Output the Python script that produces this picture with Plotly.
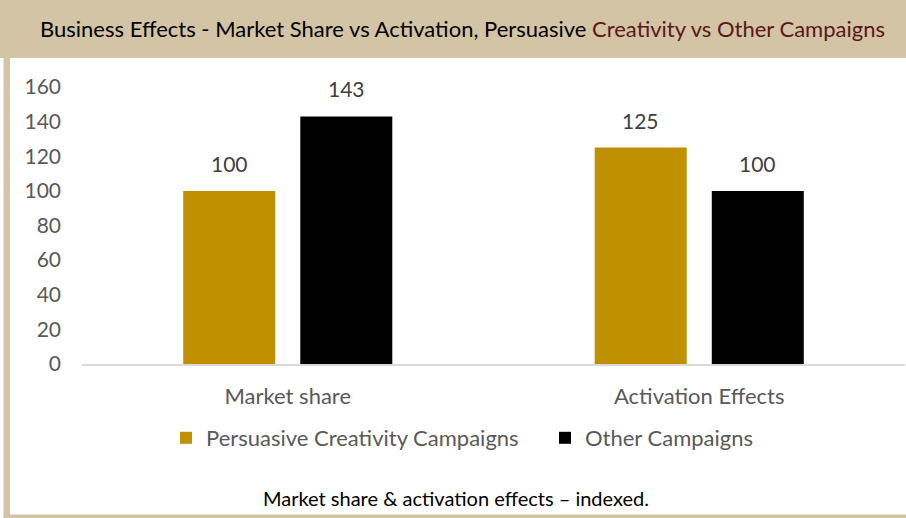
import plotly.graph_objects as go

categories = ["Market share", "Activation Effects"]
persuasive = [100, 125]
other = [143, 100]
series_names = ["Persuasive Creativity Campaigns", "Other Campaigns"]
y_ticks = [0, 20, 40, 60, 80, 100, 120, 140, 160]

GOLD = "#BF9000"
BLACK = "#000000"
TAN = "#D3C4A5"
FONT = "Lato, 'Open Sans', sans-serif"

W, H = 906, 518
L, R, T, B = 82, 1, 87, 154
pw, ph = W - L - R, H - T - B

def px(x):
    return (x - L) / pw

def py(y):
    return (H - B - y) / ph

fig = go.Figure()
fig.add_trace(go.Bar(x=categories, y=persuasive, name=series_names[0], legend="legend",
                     marker=dict(color=GOLD, line=dict(width=0))))
fig.add_trace(go.Bar(x=categories, y=other, name=series_names[1], legend="legend2",
                     marker=dict(color=BLACK, line=dict(width=0))))

annotations = []
offset = 58.5
for vals, sh in ((persuasive, -offset), (other, offset)):
    for c, v in zip(categories, vals):
        annotations.append(dict(x=c, y=v, xref="x", yref="y", text=str(v),
                                showarrow=False, yanchor="bottom", yshift=13,
                                xshift=sh, font=dict(family=FONT, size=21, color="#404040")))

annotations.append(dict(
    x=px(462), y=py(29), xref="paper", yref="paper", showarrow=False,
    xanchor="center", yanchor="middle",
    text="Business Effects - Market Share vs Activation, Persuasive "
         "<span style='color:#5B1616'>Creativity vs Other Campaigns</span>",
    font=dict(family=FONT, size=22, color="#000000")))
annotations.append(dict(
    x=px(456), y=py(498), xref="paper", yref="paper", showarrow=False,
    xanchor="center", yanchor="middle",
    text="Market share &amp; activation effects \u2013 indexed.",
    font=dict(family=FONT, size=20, color="#000000")))

shapes = [
    dict(type="rect", xref="paper", yref="paper", x0=px(0), x1=px(906), y0=py(58), y1=py(0),
         fillcolor=TAN, line=dict(width=0), layer="below"),
    dict(type="rect", xref="paper", yref="paper", x0=px(3.5), x1=px(10), y0=py(517), y1=py(58),
         fillcolor=TAN, line=dict(width=0), layer="below"),
    dict(type="rect", xref="paper", yref="paper", x0=px(3.5), x1=px(906), y0=py(518), y1=py(514.5),
         fillcolor=TAN, line=dict(width=0), layer="below"),
]

legend_common = dict(orientation="h", xanchor="left", yanchor="middle",
                     bgcolor="rgba(0,0,0,0)",
                     font=dict(family=FONT, size=22, color="#595959"), itemwidth=30)

fig.update_layout(
    width=W, height=H,
    margin=dict(l=L, r=R, t=T, b=B, pad=0),
    paper_bgcolor="white", plot_bgcolor="white",
    barmode="group", bargap=0.431, bargroupgap=0.214,
    font=dict(family=FONT, color="#595959"),
    showlegend=True,
    legend=dict(x=px(166), y=py(438), **legend_common),
    legend2=dict(x=px(545), y=py(438), **legend_common),
    annotations=annotations, shapes=shapes,
)
fig.update_xaxes(showgrid=False, showline=True, linecolor="#D9D9D9", linewidth=1.5,
                 ticks="", tickfont=dict(family=FONT, size=22, color="#595959"),
                 ticklabelstandoff=12, zeroline=False)
fig.update_yaxes(range=[0, 160], tickvals=y_ticks, showgrid=False, showline=False,
                 zeroline=False, ticks="", ticklabelstandoff=20,
                 tickfont=dict(family=FONT, size=21, color="#595959"))

fig.write_html("out.html", config={"displayModeBar": False},
               post_script="document.body.style.margin='0px';")
